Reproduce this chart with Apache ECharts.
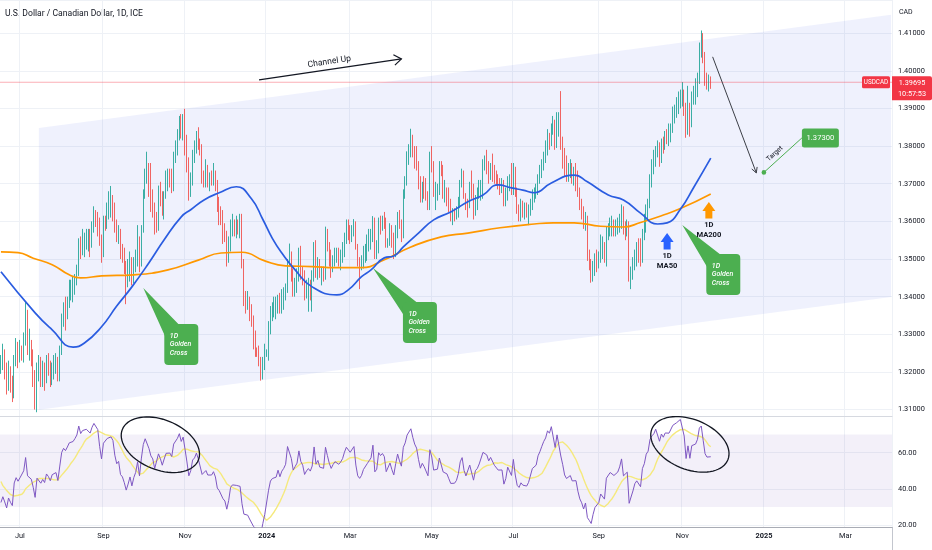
<!DOCTYPE html>
<html>
<head>
<meta charset="utf-8">
<script src="https://cdn.jsdelivr.net/npm/echarts@6/dist/echarts.min.js"></script>
<style>
html,body{margin:0;padding:0;background:#ffffff;}
#chart{width:932px;height:550px;}
</style>
</head>
<body>
<div id="chart"></div>
<script>
// ---------------- DATA ----------------
const firstBarDate = '2023-06-19';
const barSlots = 470; // trading-day slots on the time axis (data + future space)

const tickDates  = ['2023-07-03','2023-09-01','2023-11-01','2024-01-01','2024-03-01','2024-05-01','2024-07-01','2024-09-02','2024-11-01','2025-01-01','2025-03-03'];
const tickLabels = ['Jul','Sep','Nov','2024','Mar','May','Jul','Sep','Nov','2025','Mar'];

// closes before the first visible bar (used only to warm up the RSI)
const warmupCloses = [1.3375,1.3375,1.3370,1.3450,1.3540,1.3465,1.3495,1.3450,1.3505,1.3510,1.3500,1.3500,1.3585,1.3615,1.3615,1.3600,1.3590,1.3575,1.3435,1.3430,1.3425,1.3420,1.3360,1.3360,1.3335,1.3360,1.3345,1.3340,1.3255,1.3215];

// daily candles [open, close, low, high]
const candles = [
[1.3215,1.3225,1.3195,1.3245],[1.3225,1.3245,1.3205,1.3275],[1.3245,1.3210,1.3180,1.3260],[1.3210,1.3165,1.3140,1.3225],[1.3165,1.3200,1.3150,1.3230],
[1.3200,1.3170,1.3145,1.3215],[1.3170,1.3145,1.3120,1.3190],[1.3145,1.3235,1.3130,1.3245],[1.3235,1.3260,1.3215,1.3290],[1.3260,1.3240,1.3210,1.3280],
[1.3240,1.3255,1.3225,1.3285],[1.3255,1.3245,1.3230,1.3270],[1.3245,1.3285,1.3225,1.3305],[1.3285,1.3355,1.3270,1.3387],[1.3355,1.3260,1.3245,1.3365],
[1.3260,1.3265,1.3230,1.3315],[1.3265,1.3240,1.3215,1.3285],[1.3240,1.3190,1.3160,1.3260],[1.3190,1.3115,1.3100,1.3205],[1.3115,1.3215,1.3093,1.3225],
[1.3215,1.3220,1.3175,1.3245],[1.3220,1.3180,1.3160,1.3240],[1.3180,1.3200,1.3160,1.3230],[1.3200,1.3180,1.3150,1.3225],[1.3180,1.3225,1.3170,1.3245],
[1.3225,1.3210,1.3190,1.3250],[1.3210,1.3185,1.3160,1.3230],[1.3185,1.3215,1.3165,1.3225],[1.3215,1.3220,1.3180,1.3245],[1.3220,1.3225,1.3195,1.3250],
[1.3225,1.3185,1.3175,1.3240],[1.3185,1.3255,1.3175,1.3270],[1.3255,1.3340,1.3245,1.3355],[1.3340,1.3370,1.3320,1.3385],[1.3370,1.3360,1.3310,1.3400],
[1.3360,1.3385,1.3340,1.3400],[1.3385,1.3415,1.3370,1.3445],[1.3415,1.3425,1.3390,1.3445],[1.3425,1.3425,1.3385,1.3455],[1.3425,1.3445,1.3405,1.3460],
[1.3445,1.3470,1.3430,1.3485],[1.3470,1.3545,1.3455,1.3555],[1.3545,1.3520,1.3500,1.3560],[1.3520,1.3545,1.3510,1.3580],[1.3545,1.3545,1.3505,1.3570],
[1.3545,1.3555,1.3525,1.3580],[1.3555,1.3555,1.3520,1.3580],[1.3555,1.3545,1.3505,1.3580],[1.3545,1.3585,1.3530,1.3600],[1.3585,1.3615,1.3570,1.3640],
[1.3615,1.3610,1.3585,1.3630],[1.3610,1.3600,1.3560,1.3625],[1.3600,1.3555,1.3535,1.3610],[1.3555,1.3515,1.3490,1.3565],[1.3515,1.3600,1.3505,1.3615],
[1.3600,1.3595,1.3575,1.3615],[1.3595,1.3635,1.3580,1.3650],[1.3635,1.3640,1.3605,1.3680],[1.3640,1.3645,1.3610,1.3694],[1.3645,1.3635,1.3600,1.3670],
[1.3635,1.3590,1.3570,1.3650],[1.3590,1.3560,1.3545,1.3605],[1.3560,1.3570,1.3540,1.3590],[1.3570,1.3520,1.3500,1.3580],[1.3520,1.3510,1.3490,1.3540],
[1.3510,1.3485,1.3460,1.3530],[1.3485,1.3450,1.3380,1.3495],[1.3450,1.3470,1.3425,1.3500],[1.3470,1.3495,1.3440,1.3520],[1.3495,1.3455,1.3430,1.3505],
[1.3455,1.3485,1.3435,1.3505],[1.3485,1.3505,1.3465,1.3525],[1.3505,1.3550,1.3480,1.3590],[1.3550,1.3490,1.3465,1.3560],[1.3490,1.3580,1.3480,1.3590],
[1.3580,1.3675,1.3570,1.3685],[1.3675,1.3725,1.3660,1.3740],[1.3725,1.3740,1.3700,1.3785],[1.3740,1.3690,1.3665,1.3755],[1.3690,1.3655,1.3625,1.3755],
[1.3655,1.3640,1.3610,1.3685],[1.3640,1.3590,1.3565,1.3650],[1.3590,1.3580,1.3570,1.3625],[1.3580,1.3685,1.3575,1.3695],[1.3685,1.3660,1.3640,1.3705],
[1.3660,1.3625,1.3615,1.3680],[1.3625,1.3665,1.3605,1.3680],[1.3665,1.3705,1.3660,1.3735],[1.3705,1.3715,1.3680,1.3740],[1.3715,1.3710,1.3690,1.3740],
[1.3710,1.3695,1.3675,1.3740],[1.3695,1.3780,1.3680,1.3785],[1.3780,1.3785,1.3755,1.3815],[1.3785,1.3825,1.3775,1.3845],[1.3825,1.3865,1.3815,1.3880],
[1.3865,1.3835,1.3820,1.3885],[1.3835,1.3870,1.3815,1.3885],[1.3870,1.3820,1.3775,1.3899],[1.3820,1.3760,1.3730,1.3830],[1.3760,1.3680,1.3655,1.3770],
[1.3680,1.3710,1.3665,1.3730],[1.3710,1.3780,1.3695,1.3790],[1.3780,1.3795,1.3755,1.3815],[1.3795,1.3830,1.3780,1.3840],[1.3830,1.3800,1.3790,1.3850],
[1.3800,1.3795,1.3775,1.3820],[1.3795,1.3715,1.3700,1.3805],[1.3715,1.3705,1.3690,1.3735],[1.3705,1.3735,1.3690,1.3765],[1.3735,1.3710,1.3690,1.3750],
[1.3710,1.3715,1.3680,1.3730],[1.3715,1.3710,1.3695,1.3735],[1.3710,1.3725,1.3695,1.3755],[1.3725,1.3700,1.3680,1.3735],[1.3700,1.3640,1.3625,1.3710],
[1.3640,1.3625,1.3590,1.3665],[1.3625,1.3615,1.3590,1.3640],[1.3615,1.3575,1.3540,1.3630],[1.3575,1.3560,1.3545,1.3595],[1.3560,1.3500,1.3480,1.3575],
[1.3500,1.3530,1.3490,1.3560],[1.3530,1.3580,1.3520,1.3605],[1.3580,1.3590,1.3560,1.3620],[1.3590,1.3580,1.3560,1.3605],[1.3580,1.3585,1.3555,1.3615],
[1.3585,1.3580,1.3565,1.3605],[1.3580,1.3580,1.3555,1.3620],[1.3580,1.3485,1.3475,1.3620],[1.3485,1.3400,1.3375,1.3500],[1.3400,1.3390,1.3355,1.3415],
[1.3390,1.3390,1.3365,1.3415],[1.3390,1.3355,1.3335,1.3400],[1.3355,1.3340,1.3320,1.3380],[1.3340,1.3280,1.3260,1.3350],[1.3280,1.3255,1.3240,1.3310],
[1.3255,1.3250,1.3240,1.3265],[1.3250,1.3235,1.3215,1.3270],[1.3235,1.3195,1.3177,1.3240],[1.3195,1.3220,1.3180,1.3240],[1.3220,1.3245,1.3205,1.3275],
[1.3245,1.3250,1.3240,1.3260],[1.3250,1.3320,1.3230,1.3335],[1.3320,1.3355,1.3300,1.3375],[1.3355,1.3365,1.3335,1.3385],[1.3365,1.3365,1.3345,1.3400],
[1.3365,1.3370,1.3340,1.3400],[1.3370,1.3395,1.3355,1.3405],[1.3395,1.3370,1.3355,1.3410],[1.3370,1.3390,1.3355,1.3420],[1.3390,1.3400,1.3365,1.3425],
[1.3400,1.3415,1.3390,1.3435],[1.3415,1.3495,1.3410,1.3500],[1.3495,1.3505,1.3480,1.3541],[1.3505,1.3460,1.3440,1.3520],[1.3460,1.3415,1.3400,1.3475],
[1.3415,1.3430,1.3400,1.3450],[1.3430,1.3445,1.3410,1.3475],[1.3445,1.3505,1.3440,1.3530],[1.3505,1.3465,1.3445,1.3535],[1.3465,1.3450,1.3430,1.3480],
[1.3450,1.3410,1.3390,1.3470],[1.3410,1.3425,1.3395,1.3445],[1.3425,1.3435,1.3360,1.3450],[1.3435,1.3425,1.3390,1.3445],[1.3425,1.3445,1.3360,1.3470],
[1.3445,1.3540,1.3440,1.3545],[1.3540,1.3470,1.3450,1.3550],[1.3470,1.3490,1.3445,1.3505],[1.3490,1.3460,1.3450,1.3500],[1.3460,1.3460,1.3430,1.3480],
[1.3460,1.3455,1.3440,1.3480],[1.3455,1.3570,1.3445,1.3586],[1.3570,1.3535,1.3520,1.3580],[1.3535,1.3500,1.3480,1.3545],[1.3500,1.3475,1.3450,1.3525],
[1.3475,1.3495,1.3465,1.3510],[1.3495,1.3510,1.3480,1.3530],[1.3510,1.3510,1.3490,1.3530],[1.3510,1.3500,1.3480,1.3530],[1.3500,1.3510,1.3470,1.3525],
[1.3510,1.3525,1.3490,1.3545],[1.3525,1.3555,1.3505,1.3570],[1.3555,1.3580,1.3540,1.3605],[1.3580,1.3575,1.3550,1.3605],[1.3575,1.3565,1.3540,1.3590],
[1.3565,1.3570,1.3545,1.3590],[1.3570,1.3590,1.3560,1.3606],[1.3590,1.3535,1.3525,1.3600],[1.3535,1.3495,1.3480,1.3540],[1.3495,1.3485,1.3420,1.3505],
[1.3485,1.3495,1.3470,1.3510],[1.3495,1.3515,1.3475,1.3535],[1.3515,1.3520,1.3490,1.3540],[1.3520,1.3535,1.3495,1.3565],[1.3535,1.3545,1.3520,1.3580],
[1.3545,1.3555,1.3525,1.3580],[1.3555,1.3605,1.3545,1.3614],[1.3605,1.3520,1.3500,1.3610],[1.3520,1.3530,1.3500,1.3550],[1.3530,1.3605,1.3515,1.3610],
[1.3605,1.3595,1.3565,1.3615],[1.3595,1.3605,1.3575,1.3615],[1.3605,1.3595,1.3580,1.3625],[1.3595,1.3540,1.3530,1.3610],[1.3540,1.3545,1.3530,1.3555],
[1.3545,1.3575,1.3535,1.3595],[1.3575,1.3550,1.3530,1.3590],[1.3550,1.3530,1.3500,1.3570],[1.3530,1.3575,1.3505,1.3590],[1.3575,1.3620,1.3555,1.3625],
[1.3620,1.3595,1.3580,1.3630],[1.3595,1.3575,1.3545,1.3605],[1.3575,1.3675,1.3555,1.3685],[1.3675,1.3705,1.3660,1.3720],[1.3705,1.3765,1.3695,1.3786],
[1.3765,1.3780,1.3750,1.3805],[1.3780,1.3820,1.3770,1.3846],[1.3820,1.3790,1.3770,1.3830],[1.3790,1.3765,1.3740,1.3800],[1.3765,1.3750,1.3735,1.3800],
[1.3750,1.3705,1.3685,1.3760],[1.3705,1.3665,1.3650,1.3720],[1.3665,1.3690,1.3650,1.3705],[1.3690,1.3675,1.3660,1.3720],[1.3675,1.3670,1.3655,1.3715],
[1.3670,1.3635,1.3630,1.3680],[1.3635,1.3780,1.3630,1.3785],[1.3780,1.3745,1.3730,1.3800],[1.3745,1.3675,1.3665,1.3760],[1.3675,1.3675,1.3630,1.3705],
[1.3675,1.3680,1.3655,1.3700],[1.3680,1.3745,1.3670,1.3760],[1.3745,1.3740,1.3720,1.3760],[1.3740,1.3675,1.3660,1.3750],[1.3675,1.3675,1.3650,1.3710],
[1.3675,1.3665,1.3640,1.3690],[1.3665,1.3640,1.3625,1.3690],[1.3640,1.3615,1.3600,1.3660],[1.3615,1.3620,1.3590,1.3635],[1.3620,1.3615,1.3600,1.3635],
[1.3615,1.3625,1.3605,1.3640],[1.3625,1.3650,1.3610,1.3665],[1.3650,1.3700,1.3635,1.3710],[1.3700,1.3720,1.3690,1.3740],[1.3720,1.3670,1.3660,1.3735],
[1.3670,1.3645,1.3630,1.3675],[1.3645,1.3640,1.3610,1.3660],[1.3640,1.3690,1.3635,1.3705],[1.3690,1.3685,1.3660,1.3735],[1.3685,1.3625,1.3605,1.3700],
[1.3625,1.3665,1.3615,1.3670],[1.3665,1.3675,1.3630,1.3690],[1.3675,1.3695,1.3660,1.3710],[1.3695,1.3695,1.3655,1.3710],[1.3695,1.3750,1.3660,1.3765],
[1.3750,1.3760,1.3735,1.3775],[1.3760,1.3745,1.3725,1.3790],[1.3745,1.3725,1.3700,1.3760],[1.3725,1.3740,1.3710,1.3755],[1.3740,1.3735,1.3705,1.3780],
[1.3735,1.3715,1.3700,1.3750],[1.3715,1.3710,1.3695,1.3735],[1.3710,1.3700,1.3685,1.3725],[1.3700,1.3695,1.3670,1.3715],[1.3695,1.3700,1.3675,1.3715],
[1.3700,1.3655,1.3640,1.3710],[1.3655,1.3670,1.3640,1.3690],[1.3670,1.3705,1.3655,1.3720],[1.3705,1.3710,1.3680,1.3725],[1.3710,1.3680,1.3670,1.3755],
[1.3680,1.3735,1.3670,1.3755],[1.3735,1.3680,1.3665,1.3745],[1.3680,1.3635,1.3620,1.3690],[1.3635,1.3625,1.3600,1.3645],[1.3625,1.3640,1.3600,1.3660],
[1.3640,1.3630,1.3610,1.3655],[1.3630,1.3635,1.3605,1.3650],[1.3635,1.3625,1.3610,1.3650],[1.3625,1.3635,1.3590,1.3645],[1.3635,1.3640,1.3615,1.3660],
[1.3640,1.3675,1.3630,1.3685],[1.3675,1.3675,1.3650,1.3690],[1.3675,1.3685,1.3660,1.3700],[1.3685,1.3715,1.3670,1.3725],[1.3715,1.3730,1.3700,1.3750],
[1.3730,1.3750,1.3715,1.3765],[1.3750,1.3770,1.3735,1.3785],[1.3770,1.3785,1.3755,1.3815],[1.3785,1.3820,1.3775,1.3845],[1.3820,1.3815,1.3790,1.3835],
[1.3815,1.3850,1.3800,1.3860],[1.3850,1.3860,1.3830,1.3880],[1.3860,1.3810,1.3790,1.3870],[1.3810,1.3875,1.3795,1.3890],[1.3875,1.3875,1.3825,1.3890],
[1.3875,1.3815,1.3790,1.3946],[1.3815,1.3785,1.3740,1.3825],[1.3785,1.3745,1.3720,1.3795],[1.3745,1.3730,1.3705,1.3775],[1.3730,1.3735,1.3705,1.3755],
[1.3735,1.3740,1.3715,1.3765],[1.3740,1.3720,1.3700,1.3755],[1.3720,1.3725,1.3695,1.3745],[1.3725,1.3720,1.3680,1.3755],[1.3720,1.3680,1.3665,1.3735],
[1.3680,1.3645,1.3630,1.3690],[1.3645,1.3625,1.3605,1.3660],[1.3625,1.3590,1.3580,1.3640],[1.3590,1.3605,1.3575,1.3625],[1.3605,1.3505,1.3495,1.3615],
[1.3505,1.3480,1.3470,1.3525],[1.3480,1.3450,1.3437,1.3500],[1.3450,1.3475,1.3440,1.3495],[1.3475,1.3495,1.3455,1.3515],[1.3495,1.3490,1.3465,1.3525],
[1.3490,1.3505,1.3475,1.3520],[1.3505,1.3530,1.3490,1.3565],[1.3530,1.3530,1.3500,1.3560],[1.3530,1.3505,1.3490,1.3545],[1.3505,1.3570,1.3480,1.3585],
[1.3570,1.3575,1.3550,1.3595],[1.3575,1.3590,1.3560,1.3610],[1.3590,1.3590,1.3560,1.3615],[1.3590,1.3580,1.3560,1.3605],[1.3580,1.3585,1.3560,1.3605],
[1.3585,1.3590,1.3565,1.3610],[1.3590,1.3605,1.3570,1.3620],[1.3605,1.3630,1.3580,1.3645],[1.3630,1.3580,1.3565,1.3640],[1.3580,1.3575,1.3550,1.3600],
[1.3575,1.3590,1.3560,1.3605],[1.3590,1.3450,1.3440,1.3600],[1.3450,1.3470,1.3420,1.3480],[1.3470,1.3490,1.3445,1.3505],[1.3490,1.3515,1.3470,1.3525],
[1.3515,1.3525,1.3480,1.3545],[1.3525,1.3520,1.3490,1.3555],[1.3520,1.3500,1.3480,1.3555],[1.3500,1.3565,1.3490,1.3580],[1.3565,1.3585,1.3550,1.3620],
[1.3585,1.3630,1.3570,1.3645],[1.3630,1.3645,1.3605,1.3660],[1.3645,1.3715,1.3635,1.3725],[1.3715,1.3740,1.3690,1.3765],[1.3740,1.3755,1.3725,1.3790],
[1.3755,1.3790,1.3745,1.3800],[1.3790,1.3800,1.3770,1.3815],[1.3800,1.3760,1.3745,1.3810],[1.3760,1.3810,1.3755,1.3820],[1.3810,1.3800,1.3780,1.3825],
[1.3800,1.3830,1.3790,1.3840],[1.3830,1.3825,1.3805,1.3845],[1.3825,1.3835,1.3800,1.3860],[1.3835,1.3845,1.3810,1.3860],[1.3845,1.3890,1.3835,1.3905],
[1.3890,1.3895,1.3860,1.3910],[1.3895,1.3910,1.3875,1.3930],[1.3910,1.3920,1.3885,1.3945],[1.3920,1.3935,1.3900,1.3950],[1.3935,1.3945,1.3905,1.3970],
[1.3945,1.3905,1.3880,1.3950],[1.3905,1.3840,1.3822,1.3915],[1.3840,1.3905,1.3830,1.3960],[1.3905,1.3860,1.3825,1.3915],[1.3860,1.3935,1.3850,1.3945],
[1.3935,1.3935,1.3910,1.3960],[1.3935,1.3945,1.3910,1.3980],[1.3945,1.3975,1.3930,1.3995],[1.3975,1.4065,1.3965,1.4075],[1.4065,1.4085,1.4035,1.4107],
[1.4085,1.4035,1.4020,1.4100],[1.4035,1.3980,1.3960,1.4050],[1.3980,1.3965,1.3950,1.3995],[1.3965,1.3975,1.3945,1.3990],[1.3975,1.39695,1.3952,1.3985]
];

// moving averages: [bar index, value]
const ma50Points = [[0,1.3466],[18,1.3357],[27,1.3312],[38,1.3266],[44,1.3277],[53,1.3320],[61,1.3375],[69,1.3426],[78,1.3490],[86,1.3551],[95,1.3612],[100,1.3631],[107,1.3657],[115,1.3676],[124,1.3692],[132,1.3660],[138,1.3605],[143,1.3555],[148,1.3516],[155,1.3471],[164,1.3426],[177,1.3405],[183,1.3418],[190,1.3453],[195,1.3471],[202,1.3503],[207,1.3508],[212,1.3532],[220,1.3569],[228,1.3604],[237,1.3625],[246,1.3652],[254,1.3670],[262,1.3697],[269,1.3689],[275,1.3683],[281,1.3676],[290,1.3702],[302,1.3723],[309,1.3705],[320,1.3670],[328,1.3657],[337,1.3622],[346,1.3593],[351,1.3596],[358,1.3632],[365,1.3690],[374,1.3768]];
const ma200Points = [[0,1.3519],[9,1.3517],[17,1.3502],[27,1.3485],[36,1.3458],[42,1.3450],[53,1.3455],[70,1.3458],[88,1.3471],[104,1.3497],[116,1.3516],[127,1.3518],[139,1.3495],[150,1.3482],[164,1.3480],[176,1.3477],[190,1.3477],[202,1.3498],[216,1.3532],[232,1.3559],[246,1.3569],[263,1.3583],[281,1.3593],[291,1.3596],[302,1.3596],[316,1.3587],[328,1.3585],[337,1.3597],[348,1.3615],[358,1.3634],[374,1.3673]];

const lastPriceText = '1.39695';
const countdownText = '10:57:53';
const targetPrice = 1.373;

// ---------------- DRAWINGS (anchored in data coordinates) ----------------
const drawings = {
  channel: [[20,1.30999],[20,1.38483],[469,1.41486],[469,1.33992]],
  channelArrow: { from:[136,1.39759], to:[211,1.40317], text:'Channel Up', textAt:[173,1.40237] },
  goldenCross: [
    { anchor:[75,1.34231], dx:21, dy:36 },
    { anchor:[196,1.34763], dx:30, dy:34 },
    { anchor:[359,1.35906], dx:24, dy:29 }
  ],
  forecastArrow: { from:[375,1.40370], to:[398,1.37288] },
  target: { at:[402,targetPrice] },
  ma50Arrow: { tip:[351,1.35693], lines:['1D','MA50'], color:'#2962ff' },
  ma200Arrow: { tip:[373,1.36517], lines:['1D','MA200'], color:'#ff9800' },
  rsiEllipses: [[84,64.4],[363,64.6]]
};

// ---------------- BUILD ----------------
function buildCategories(start, n) {
  const out = [];
  const d = new Date(start + 'T00:00:00Z');
  while (out.length < n) {
    const wd = d.getUTCDay();
    if (wd !== 0 && wd !== 6) out.push(d.toISOString().slice(0, 10));
    d.setUTCDate(d.getUTCDate() + 1);
  }
  return out;
}
const categories = buildCategories(firstBarDate, barSlots);
const tickMap = {};
tickDates.forEach((d, i) => { tickMap[d] = tickLabels[i]; });

function rsiWilder(closes, n) {
  const out = new Array(closes.length).fill(null);
  let g = 0, l = 0;
  for (let i = 1; i <= n; i++) { const d = closes[i] - closes[i - 1]; if (d > 0) g += d; else l -= d; }
  g /= n; l /= n;
  out[n] = l === 0 ? 100 : 100 - 100 / (1 + g / l);
  for (let i = n + 1; i < closes.length; i++) {
    const d = closes[i] - closes[i - 1];
    g = (g * (n - 1) + Math.max(d, 0)) / n;
    l = (l * (n - 1) + Math.max(-d, 0)) / n;
    out[i] = l === 0 ? 100 : 100 - 100 / (1 + g / l);
  }
  return out;
}
function smaOf(arr, n) {
  return arr.map((v, i) => {
    if (i < n - 1) return null;
    let s = 0;
    for (let k = i - n + 1; k <= i; k++) { if (arr[k] == null) return null; s += arr[k]; }
    return s / n;
  });
}
const allCloses = warmupCloses.concat(candles.map(c => c[1]));
const rsiAll = rsiWilder(allCloses, 14);
const rsiMaAll = smaOf(rsiAll, 14);
const off = warmupCloses.length;
const rsiData = rsiAll.slice(off).map(v => v == null ? '-' : +v.toFixed(2));
const rsiMaData = rsiMaAll.slice(off).map(v => v == null ? '-' : +v.toFixed(2));

const FONT = 'Roboto, "Noto Sans", sans-serif';
const INK = '#131722';
const GREEN = '#4caf50';

function txt(x, y, text, font, fill, align, rot) {
  return { type:'text', x:x, y:y, rotation: rot || 0,
    style:{ text:text, font:font, fill:fill || INK, align: align || 'center', verticalAlign:'middle' } };
}
function openHead(x1, y1, x2, y2, len, ang, color, w) {
  const a = Math.atan2(y1 - y2, x1 - x2);
  const p1 = [x2 + len * Math.cos(a + ang), y2 + len * Math.sin(a + ang)];
  const p2 = [x2 + len * Math.cos(a - ang), y2 + len * Math.sin(a - ang)];
  return { type:'polyline', shape:{ points:[p1, [x2, y2], p2] }, style:{ stroke:color, lineWidth:w, fill:null } };
}

function renderChannel(params, api) {
  const pts = drawings.channel.map(p => api.coord(p));
  return { type:'polygon', shape:{ points:pts }, style:{ fill:'rgba(70,90,235,0.085)' } };
}

function renderAnnotations(params, api) {
  const cs = params.coordSys;
  const right = cs.x + cs.width;
  const ch = [];
  // current price line + tags
  const lastClose = candles[candles.length - 1][1];
  const py = api.coord([0, lastClose])[1];
  ch.push({ type:'line', shape:{ x1:cs.x, y1:py, x2:right, y2:py }, style:{ stroke:'rgba(242,54,69,0.4)', lineWidth:1 } });
  ch.push({ type:'rect', shape:{ x:right - 30, y:py - 6, width:28, height:12, r:1.5 }, style:{ fill:'#f23645' } });
  ch.push(txt(right - 16, py, 'USDCAD', '6.3px ' + FONT, '#ffffff'));
  ch.push({ type:'rect', shape:{ x:right, y:py - 6, width:40, height:24, r:[0,2,2,0] }, style:{ fill:'#f23645' } });
  ch.push(txt(right + 20, py + 0.5, lastPriceText, '7.3px ' + FONT, '#ffffff'));
  ch.push(txt(right + 20, py + 11.5, countdownText, '7.3px ' + FONT, '#ffffff'));

  // Channel Up arrow
  const ca = drawings.channelArrow;
  const a1 = api.coord(ca.from), a2 = api.coord(ca.to);
  ch.push({ type:'line', shape:{ x1:a1[0], y1:a1[1], x2:a2[0], y2:a2[1] }, style:{ stroke:INK, lineWidth:1.2 } });
  ch.push(openHead(a1[0], a1[1], a2[0], a2[1], 9, 0.62, INK, 1.2));
  const ct = api.coord(ca.textAt);
  const rot = Math.atan2(a1[1] - a2[1], a2[0] - a1[0]);
  ch.push(txt(ct[0], ct[1], ca.text, '8.6px ' + FONT, INK, 'center', rot));

  // Golden Cross callouts
  drawings.goldenCross.forEach(gc => {
    const p = api.coord(gc.anchor);
    const bx = p[0] + gc.dx, by = p[1] + gc.dy, bw = 34, bh = 41;
    ch.push({ type:'polygon', shape:{ points:[p, [bx + 16, by + 2], [bx + 2, by + 2], [bx + 2, by + 15]] }, style:{ fill:GREEN } });
    ch.push({ type:'rect', shape:{ x:bx, y:by, width:bw, height:bh, r:4 }, style:{ fill:GREEN } });
    ['1D','Golden','Cross'].forEach((s, k) => {
      ch.push(txt(bx + 5.5, by + 12 + k * 8.5, s, 'italic 500 7px ' + FONT, '#ffffff', 'left'));
    });
  });

  // forecast arrow
  const fa = drawings.forecastArrow;
  const f1 = api.coord(fa.from), f2 = api.coord(fa.to);
  ch.push({ type:'line', shape:{ x1:f1[0], y1:f1[1], x2:f2[0], y2:f2[1] }, style:{ stroke:'#3c3f47', lineWidth:1 } });
  ch.push(openHead(f1[0], f1[1], f2[0], f2[1], 6, 0.5, '#3c3f47', 1));

  // target
  const tp = api.coord(drawings.target.at);
  const tbx = tp[0] + 38, tby = tp[1] - 44, tbw = 37, tbh = 19;
  const lx = tbx, ly = tby + tbh / 2;
  ch.push({ type:'line', shape:{ x1:tp[0], y1:tp[1], x2:lx, y2:ly }, style:{ stroke:GREEN, lineWidth:1 } });
  ch.push({ type:'circle', shape:{ cx:tp[0], cy:tp[1], r:2.3 }, style:{ fill:GREEN } });
  ch.push({ type:'rect', shape:{ x:tbx, y:tby, width:tbw, height:tbh, r:2.5 }, style:{ fill:GREEN } });
  ch.push(txt(tbx + tbw / 2, tby + tbh / 2, targetPrice.toFixed(5), '7.6px ' + FONT, '#ffffff'));
  const trot = Math.atan2(tp[1] - ly, lx - tp[0]);
  const mx = (tp[0] + lx) / 2, my = (tp[1] + ly) / 2;
  const nx = -Math.sin(trot), ny = -Math.cos(trot);
  ch.push(txt(mx + nx * 6 - 4, my + ny * 6 + 3, 'Target', '6.8px ' + FONT, INK, 'center', trot));

  // MA arrows
  [drawings.ma50Arrow, drawings.ma200Arrow].forEach(ar => {
    const t = api.coord(ar.tip);
    const x = t[0], y = t[1];
    ch.push({ type:'polygon', shape:{ points:[[x, y], [x + 6.5, y + 9], [x + 3.5, y + 9], [x + 3.5, y + 16.5], [x - 3.5, y + 16.5], [x - 3.5, y + 9], [x - 6.5, y + 9]] }, style:{ fill:ar.color } });
    ar.lines.forEach((s, k) => ch.push(txt(x, y + 23 + k * 10.5, s, 'bold 7.6px ' + FONT, INK)));
  });

  return { type:'group', children:ch };
}

function renderEllipses(params, api) {
  const ch = [];
  const a = 41, b = 25, phi = 22 * Math.PI / 180;
  drawings.rsiEllipses.forEach(c => {
    const p = api.coord(c);
    const pts = [];
    for (let k = 0; k <= 72; k++) {
      const t = k / 72 * Math.PI * 2;
      pts.push([p[0] + a * Math.cos(t) * Math.cos(phi) - b * Math.sin(t) * Math.sin(phi),
                p[1] + a * Math.cos(t) * Math.sin(phi) + b * Math.sin(t) * Math.cos(phi)]);
    }
    ch.push({ type:'polyline', shape:{ points:pts }, style:{ stroke:INK, lineWidth:1.3, fill:null } });
  });
  return { type:'group', children:ch };
}

const labelStyle = { fontSize:7.4, color:INK, fontFamily:FONT };
const splitInterval = (i, v) => tickMap[v] !== undefined;

const option = {
  animation:false,
  backgroundColor:'#ffffff',
  graphic:[
    { type:'text', left:5, top:9, style:{ text:'U.S. Dollar / Canadian Dollar, 1D, ICE', font:'8.6px ' + FONT, fill:INK } },
    { type:'text', left:899, top:9, style:{ text:'CAD', font:'7px ' + FONT, fill:INK } },
    { type:'line', shape:{ x1:892.5, y1:0, x2:892.5, y2:550 }, style:{ stroke:'#c3c6ce', lineWidth:1 }, z:-1 }
  ],
  grid:[
    { left:-2, right:40, top:0, height:416, containLabel:false },
    { left:-2, right:40, top:416, height:111, containLabel:false }
  ],
  xAxis:[
    { type:'category', gridIndex:0, data:categories, boundaryGap:true,
      axisLine:{ show:true, onZero:false, lineStyle:{ color:'#d6d9e0' } }, axisTick:{ show:false }, axisLabel:{ show:false },
      splitLine:{ show:true, interval:splitInterval, lineStyle:{ color:'#eef1f6', width:1 } } },
    { type:'category', gridIndex:1, data:categories, boundaryGap:true,
      axisLine:{ show:true, onZero:false, lineStyle:{ color:'#a9acb5' } }, axisTick:{ show:false },
      axisLabel:Object.assign({ interval:splitInterval, margin:6, hideOverlap:false,
        formatter:v => { const s = tickMap[v] || ''; return /^\d{4}$/.test(s) ? '{y|' + s + '}' : s; },
        rich:{ y:{ fontSize:7.4, fontWeight:'bold', color:INK, fontFamily:FONT } } }, labelStyle),
      splitLine:{ show:true, interval:splitInterval, lineStyle:{ color:'#eef1f6', width:1 } } }
  ],
  yAxis:[
    { type:'value', gridIndex:0, position:'right', min:1.3083, max:1.4188, minInterval:0.01, maxInterval:0.01, scale:true,
      axisLine:{ show:false }, axisTick:{ show:false },
      axisLabel:Object.assign({ formatter:v => v.toFixed(5), showMinLabel:false, showMaxLabel:false, margin:6 }, labelStyle),
      splitLine:{ show:true, lineStyle:{ color:'#eef1f6', width:1 } } },
    { type:'value', gridIndex:1, position:'right', min:18.9, max:80.3, minInterval:20, maxInterval:20,
      axisLine:{ show:false }, axisTick:{ show:false },
      axisLabel:Object.assign({ formatter:v => (Math.abs(v - 80) < 1e-6 ? '' : v.toFixed(2)), showMinLabel:false, showMaxLabel:false, margin:6 }, labelStyle),
      splitLine:{ show:true, lineStyle:{ color:'#eef1f6', width:1 } } }
  ],
  series:[
    { type:'custom', name:'channel', xAxisIndex:0, yAxisIndex:0, data:[[0,1.35]], renderItem:renderChannel, z:1, silent:true, clip:true },
    { type:'candlestick', name:'USDCAD', xAxisIndex:0, yAxisIndex:0, data:candles, barWidth:0.9, z:3, silent:true,
      itemStyle:{ color:'#26a69a', color0:'#ef5350', borderColor:'#26a69a', borderColor0:'#ef5350', borderWidth:0.9 } },
    { type:'line', name:'MA200', xAxisIndex:0, yAxisIndex:0, data:ma200Points, smooth:0.5, showSymbol:false, z:4, silent:true,
      lineStyle:{ color:'#ff9800', width:1.7 } },
    { type:'line', name:'MA50', xAxisIndex:0, yAxisIndex:0, data:ma50Points, smooth:0.5, showSymbol:false, z:4, silent:true,
      lineStyle:{ color:'#2a5ce0', width:1.7 } },
    { type:'custom', name:'drawings', xAxisIndex:0, yAxisIndex:0, data:[[0,1.35]], renderItem:renderAnnotations, z:10, silent:true, clip:false },
    { type:'line', name:'RSI', xAxisIndex:1, yAxisIndex:1, data:rsiData, showSymbol:false, z:4, silent:true,
      lineStyle:{ color:'#7e57c2', width:1 },
      markArea:{ silent:true, itemStyle:{ color:'rgba(126,87,194,0.09)' }, data:[[{ yAxis:30 }, { yAxis:70 }]] } },
    { type:'line', name:'RSI MA', xAxisIndex:1, yAxisIndex:1, data:rsiMaData, showSymbol:false, z:3, silent:true,
      lineStyle:{ color:'#f5e97c', width:1.4 } },
    { type:'custom', name:'rsiMarks', xAxisIndex:1, yAxisIndex:1, data:[[0,50]], renderItem:renderEllipses, z:10, silent:true, clip:false }
  ]
};

const chart = echarts.init(document.getElementById('chart'), null, { renderer:'canvas' });
chart.setOption(option);
</script>
</body>
</html>
